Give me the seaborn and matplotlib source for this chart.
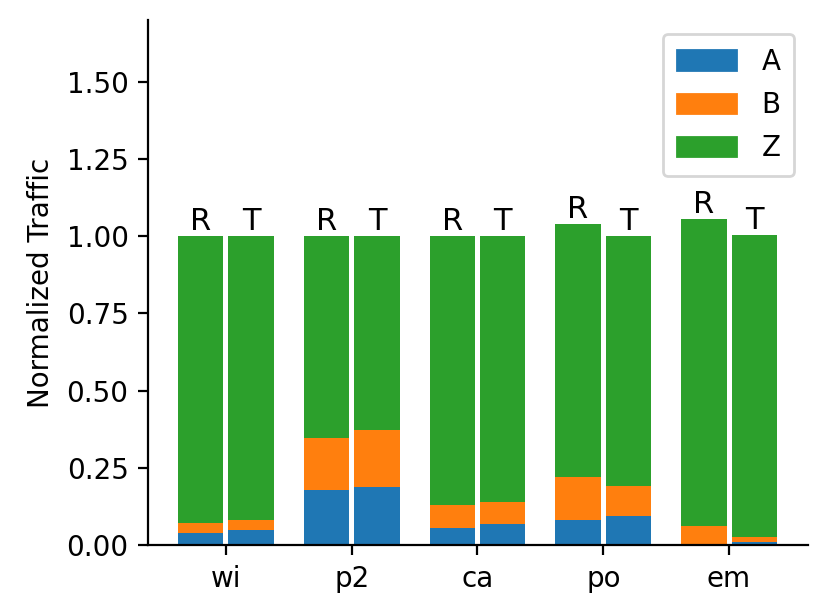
import numpy as np
import pandas as pd
import matplotlib
matplotlib.use("Agg")
import matplotlib.pyplot as plt
from matplotlib.patches import Patch
import seaborn as sns

# values
groups = ["wi", "p2", "ca", "po", "em"]
roles = ["R", "T"]
r_a = [0.038, 0.180, 0.055, 0.081, 0.005]
r_b = [0.033, 0.166, 0.075, 0.140, 0.058]
r_z = [0.929, 0.654, 0.870, 0.819, 0.994]
t_a = [0.050, 0.187, 0.068, 0.095, 0.009]
t_b = [0.030, 0.187, 0.073, 0.098, 0.016]
t_z = [0.920, 0.626, 0.859, 0.807, 0.978]

colors = {"A": "#1f77b4", "B": "#ff7f0e", "Z": "#2ca02c"}

rows = []
for i, g in enumerate(groups):
    rows.append({"pos": i - 0.2, "role": "R", "A": r_a[i], "B": r_b[i], "Z": r_z[i]})
    rows.append({"pos": i + 0.2, "role": "T", "A": t_a[i], "B": t_b[i], "Z": t_z[i]})
df = pd.DataFrame(rows)
df["AB"] = df["A"] + df["B"]
df["ABZ"] = df["AB"] + df["Z"]

fig = plt.figure(figsize=(4.145, 3.08), dpi=200)
ax = fig.add_axes([0.1785, 0.115, 0.7965, 0.8525])

# stacked bars drawn as overlapping cumulative totals
for col, c in [("ABZ", colors["Z"]), ("AB", colors["B"]), ("A", colors["A"])]:
    sns.barplot(data=df, x="pos", y=col, native_scale=True, color=c,
                saturation=1, width=0.9, ax=ax, errorbar=None)

for _, r in df.iterrows():
    ax.text(r["pos"], r["ABZ"], r["role"], ha="center", va="bottom", fontsize=11)

ax.set_xticks(range(len(groups)))
ax.set_xticklabels(groups)
ax.set_xlim(-0.62, 4.63)
ax.set_ylim(0, 1.7)
ax.set_yticks([0, 0.25, 0.5, 0.75, 1.0, 1.25, 1.5])
ax.set_yticklabels(["0.00", "0.25", "0.50", "0.75", "1.00", "1.25", "1.50"])
ax.set_xlabel("")
ax.set_ylabel("Normalized Traffic")
sns.despine(ax=ax)

handles = [Patch(color=colors[k], label=k) for k in ["A", "B", "Z"]]
ax.legend(handles=handles, loc="upper right", handlelength=2.15,
          handletextpad=0.9, borderpad=0.5, labelspacing=0.55)

fig.savefig("out.png", dpi=200)
